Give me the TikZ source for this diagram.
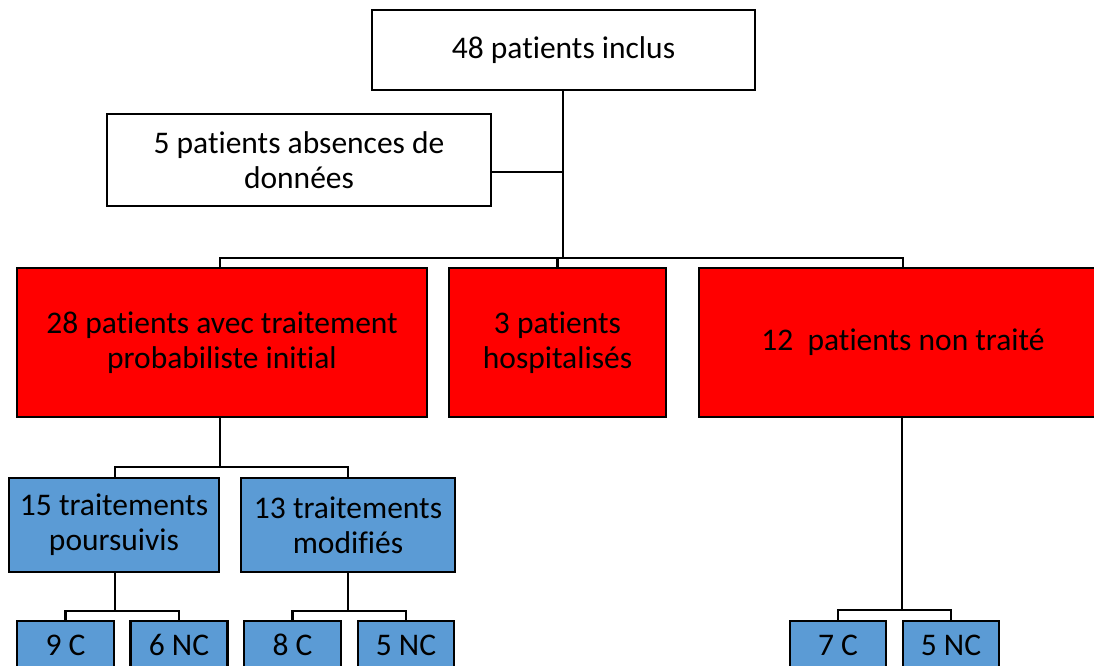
\documentclass[tikz,border=0pt]{standalone}
\usepackage{fontspec}
\setmainfont{Carlito}[Ligatures={NoCommon}]
\definecolor{boxred}{HTML}{FF0000}
\definecolor{boxblue}{HTML}{5B9BD5}
\begin{document}
\begin{tikzpicture}[x=1pt,y=-1pt,
  box/.style={draw=black, line width=2.6pt, inner sep=0pt, align=center,
    font=\fontsize{31.5}{35}\selectfont},
  whitebox/.style={box, fill=white},
  redbox/.style={box, fill=boxred},
  bluebox/.style={box, fill=boxblue},
  trunk/.style={draw=black, line width=2.8pt},
  bus/.style={draw=black, line width=2.2pt},
  thin/.style={draw=black, line width=1.3pt}]
\useasboundingbox (0,0) rectangle (1094,666);
\clip (0,0) rectangle (1094,666);
% nodes
\node[whitebox, minimum width=383pt, minimum height=80pt] (top) at (563.5,50) {48 patients inclus};
\node[whitebox, minimum width=384pt, minimum height=92pt] (side) at (299,160) {5 patients absences de\\données};
\node[redbox, minimum width=410pt, minimum height=149pt] (left) at (222,342.5) {28 patients avec traitement\\probabiliste initial};
\node[redbox, minimum width=217pt, minimum height=149pt] (mid) at (557.5,342.5) {3 patients\\hospitalisés};
\node[redbox, minimum width=408pt, minimum height=149pt] (right) at (903,342.5) {12\ \ patients non traité};
\node[bluebox, minimum width=210pt, minimum height=94pt] (poursuivis) at (114,525) {15 traitements\\poursuivis};
\node[bluebox, minimum width=214pt, minimum height=94pt] (modifies) at (348,525) {13 traitements\\modifiés};
\node[bluebox, minimum width=97pt, minimum height=48pt] (c9) at (65.5,645) {9 C};
\node[bluebox, minimum width=97pt, minimum height=48pt] (nc6) at (179,645) {6 NC};
\node[bluebox, minimum width=97pt, minimum height=48pt] (c8) at (292.5,645) {8 C};
\node[bluebox, minimum width=96pt, minimum height=48pt] (nc5a) at (406,645) {5 NC};
\node[bluebox, minimum width=96pt, minimum height=48pt] (c7) at (838,645) {7 C};
\node[bluebox, minimum width=96pt, minimum height=48pt] (nc5b) at (951,645) {5 NC};
% junction coordinates
\coordinate (j1) at (563,258);
\coordinate (sj) at (563,172);
\coordinate (j2) at (220,467);
\coordinate (j3) at (115,611);
\coordinate (j4) at (348,611);
\coordinate (j5) at (902,610);
% connectors
\draw[trunk] (j1 |- top.south) -- (j1);
\draw[thin] (side.east |- sj) -- (sj);
\draw[bus] (left.north -| j2) -- (j2 |- j1) -- (right.north |- j1) -- (right.north);
\draw[bus] (mid.north) -- (mid.north |- j1);
\draw[trunk] (left.south -| j2) -- (j2);
\draw[bus] (poursuivis.north -| j3) |- (j2) -| (modifies.north);
\draw[trunk] (poursuivis.south -| j3) -- (j3);
\draw[bus] (c9.north) |- (j3) -| (nc6.north);
\draw[trunk] (modifies.south) -- (j4);
\draw[bus] (c8.north) |- (j4) -| (nc5a.north);
\draw[trunk] (right.south -| j5) -- (j5);
\draw[bus] (c7.north) |- (j5) -| (nc5b.north);
\end{tikzpicture}
\end{document}
